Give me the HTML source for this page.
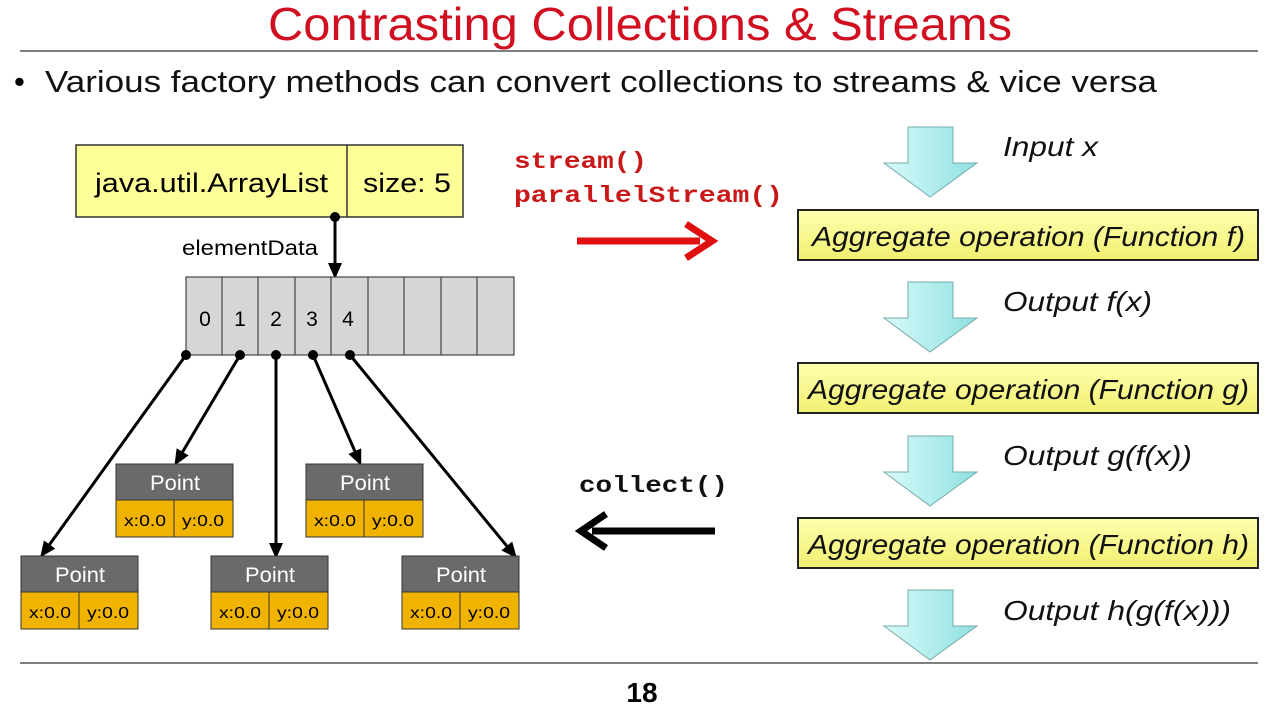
<!DOCTYPE html>
<html><head><style>body{margin:0;background:#fff}svg{display:block}</style></head>
<body>
<svg width="1280" height="720" viewBox="0 0 1280 720" xmlns="http://www.w3.org/2000/svg" font-family="Liberation Sans, sans-serif">
<defs>
<marker id="ah" markerWidth="16" markerHeight="14" refX="13" refY="7" orient="auto" markerUnits="userSpaceOnUse"><path d="M0,0 L16,7 L0,14 Z" fill="#000"/></marker>
<linearGradient id="cy" x1="0" x2="1"><stop offset="0" stop-color="#d8fbfb"/><stop offset="1" stop-color="#8fe0e0"/></linearGradient>
<linearGradient id="yl" x1="0" y1="0" x2="0" y2="1"><stop offset="0" stop-color="#ffffb0"/><stop offset="1" stop-color="#f0f070"/></linearGradient>
<g id="arr"><path d="M908,0 H953 V36 H977 L930,70 L884,36 H908 Z" fill="url(#cy)" stroke="#7aa" stroke-width="1"/></g>
<g id="pt">
<rect x="0" y="0" width="117" height="36" fill="#6a6a6a" stroke="#333"/>
<rect x="0" y="36" width="58" height="37" fill="#f0b400" stroke="#333"/>
<rect x="58" y="36" width="59" height="37" fill="#f0b400" stroke="#333"/>
<text x="34" y="26" fill="#fff" font-size="21" textLength="50" lengthAdjust="spacingAndGlyphs">Point</text>
<text x="8" y="62" font-size="16" textLength="42" lengthAdjust="spacingAndGlyphs">x:0.0</text>
<text x="66" y="62" font-size="16" textLength="42" lengthAdjust="spacingAndGlyphs">y:0.0</text>
</g>
</defs>
<text x="268" y="40" fill="#d01020" font-size="46" textLength="744" lengthAdjust="spacingAndGlyphs">Contrasting Collections &amp; Streams</text>
<line x1="20" y1="51" x2="1258" y2="51" stroke="#555" stroke-width="1.5"/>
<text x="14" y="92" font-size="31">•</text>
<text x="45" y="92" font-size="31" fill="#111" textLength="1112" lengthAdjust="spacingAndGlyphs">Various factory methods can convert collections to streams &amp; vice versa</text>

<rect x="76" y="145" width="387" height="72" fill="#ffff99" stroke="#333" stroke-width="1.5"/>
<line x1="347" y1="145" x2="347" y2="217" stroke="#333" stroke-width="1.5"/>
<text x="95" y="192" font-size="27" textLength="233" lengthAdjust="spacingAndGlyphs">java.util.ArrayList</text>
<text x="363" y="192" font-size="27" textLength="88" lengthAdjust="spacingAndGlyphs">size: 5</text>
<text x="182" y="255" font-size="21" textLength="136" lengthAdjust="spacingAndGlyphs">elementData</text>
<circle cx="335" cy="217" r="5"/>
<line x1="335" y1="217" x2="335" y2="276" stroke="#000" stroke-width="3" marker-end="url(#ah)"/>
<rect x="186" y="277" width="328" height="78" fill="#d6d6d6" stroke="#444" stroke-width="1.2"/>
<g stroke="#444" stroke-width="1.2">
<line x1="222" y1="277" x2="222" y2="355"/><line x1="258" y1="277" x2="258" y2="355"/><line x1="295" y1="277" x2="295" y2="355"/><line x1="331" y1="277" x2="331" y2="355"/><line x1="368" y1="277" x2="368" y2="355"/><line x1="404" y1="277" x2="404" y2="355"/><line x1="441" y1="277" x2="441" y2="355"/><line x1="477" y1="277" x2="477" y2="355"/>
</g>
<g font-size="21" text-anchor="middle"><text x="205" y="326">0</text><text x="240" y="326">1</text><text x="276" y="326">2</text><text x="312" y="326">3</text><text x="348" y="326">4</text></g>
<g stroke="#000" stroke-width="3">
<line x1="186" y1="355" x2="42" y2="555" marker-end="url(#ah)"/>
<line x1="240" y1="355" x2="176" y2="463" marker-end="url(#ah)"/>
<line x1="276" y1="355" x2="276" y2="556" marker-end="url(#ah)"/>
<line x1="313" y1="355" x2="360" y2="463" marker-end="url(#ah)"/>
<line x1="350" y1="355" x2="515" y2="556" marker-end="url(#ah)"/>
</g>
<g><circle cx="186" cy="355" r="5"/><circle cx="240" cy="355" r="5"/><circle cx="276" cy="355" r="5"/><circle cx="313" cy="355" r="5"/><circle cx="350" cy="355" r="5"/></g>
<use href="#pt" x="116" y="464"/><use href="#pt" x="306" y="464"/>
<use href="#pt" x="21" y="556"/><use href="#pt" x="211" y="556"/><use href="#pt" x="402" y="556"/>

<g font-family="Liberation Mono, monospace" font-weight="bold" font-size="23">
<text x="514" y="168" fill="#c81818" textLength="133" lengthAdjust="spacingAndGlyphs">stream()</text>
<text x="514" y="202" fill="#c81818" textLength="269" lengthAdjust="spacingAndGlyphs">parallelStream()</text>
<text x="579" y="492" fill="#111" textLength="149" lengthAdjust="spacingAndGlyphs">collect()</text>
</g>
<line x1="577" y1="241" x2="700" y2="241" stroke="#e01010" stroke-width="7"/>
<path d="M686,224 L712,241 L686,258" fill="none" stroke="#e01010" stroke-width="7"/>
<line x1="715" y1="531" x2="592" y2="531" stroke="#000" stroke-width="7"/>
<path d="M606,514 L581,531 L606,548" fill="none" stroke="#000" stroke-width="7"/>

<use href="#arr" y="127"/><use href="#arr" y="282"/><use href="#arr" y="436"/><use href="#arr" y="590"/>
<g font-size="28" font-style="italic" fill="#111">
<text x="1003" y="156" textLength="95" lengthAdjust="spacingAndGlyphs">Input x</text>
<text x="1003" y="311" textLength="149" lengthAdjust="spacingAndGlyphs">Output f(x)</text>
<text x="1003" y="465" textLength="189" lengthAdjust="spacingAndGlyphs">Output g(f(x))</text>
<text x="1003" y="620" textLength="228" lengthAdjust="spacingAndGlyphs">Output h(g(f(x)))</text>
</g>
<g stroke="#222" stroke-width="2" fill="url(#yl)">
<rect x="798" y="210" width="460" height="50"/><rect x="798" y="363" width="460" height="50"/><rect x="798" y="518" width="460" height="50"/>
</g>
<g font-size="28" font-style="italic" fill="#111">
<text x="812" y="246" textLength="433" lengthAdjust="spacingAndGlyphs">Aggregate operation (Function f)</text>
<text x="808" y="399" textLength="441" lengthAdjust="spacingAndGlyphs">Aggregate operation (Function g)</text>
<text x="808" y="554" textLength="441" lengthAdjust="spacingAndGlyphs">Aggregate operation (Function h)</text>
</g>
<line x1="20" y1="663" x2="1258" y2="663" stroke="#555" stroke-width="1.5"/>
<text x="642" y="702" font-size="28" font-weight="bold" text-anchor="middle">18</text>
</svg>
</body></html>
